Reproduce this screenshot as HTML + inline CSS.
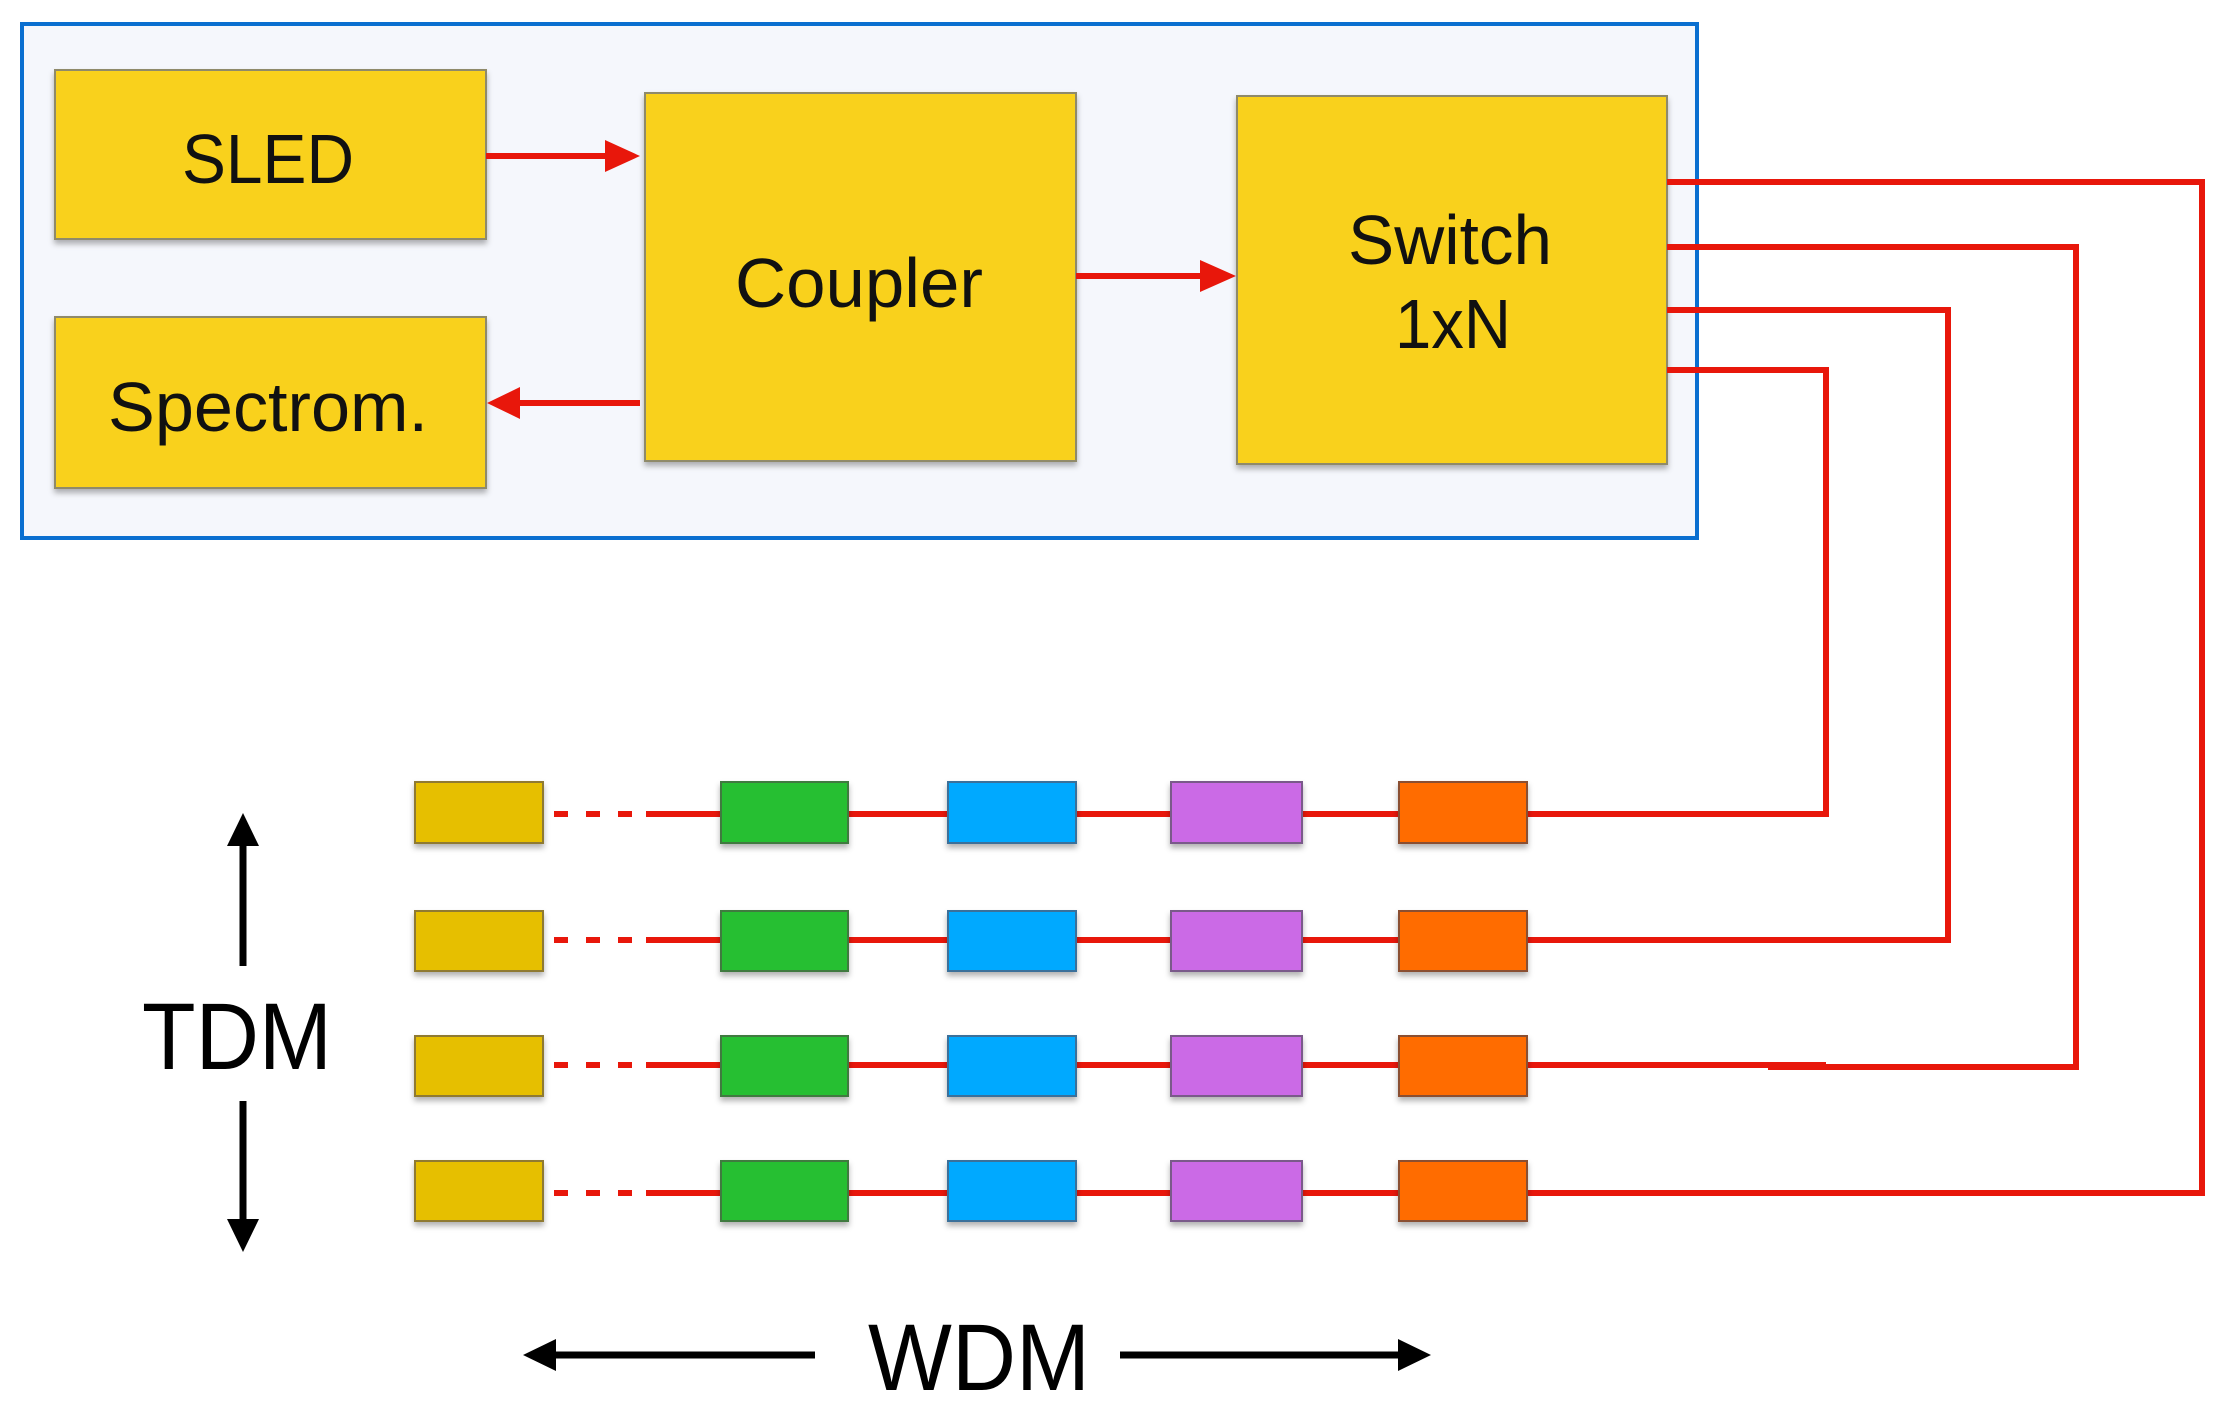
<!DOCTYPE html>
<html><head><meta charset="utf-8"><style>html,body{margin:0;padding:0;background:#fff}svg{display:block}</style></head>
<body>
<svg width="2227" height="1416" viewBox="0 0 2227 1416" xmlns="http://www.w3.org/2000/svg" font-family="Liberation Sans, sans-serif">
<defs>
<filter id="sh" x="-10%" y="-10%" width="120%" height="130%"><feDropShadow dx="0" dy="4" stdDeviation="3" flood-color="#000" flood-opacity="0.3"/></filter>
</defs>
<rect x="0" y="0" width="2227" height="1416" fill="#fff"/>
<rect x="22" y="24" width="1675" height="514" fill="#F5F7FC" stroke="#0A6FD0" stroke-width="4"/>
<g fill="#F9D11E" stroke="#8f8a6a" stroke-width="2" filter="url(#sh)">
<rect x="55" y="70" width="431" height="169"/>
<rect x="55" y="317" width="431" height="171"/>
<rect x="645" y="93" width="431" height="368"/>
<rect x="1237" y="96" width="430" height="368"/>
</g>
<g font-size="70" fill="#111" text-anchor="middle">
<text x="268" y="183" textLength="172" lengthAdjust="spacingAndGlyphs">SLED</text>
<text x="268" y="431" textLength="320" lengthAdjust="spacingAndGlyphs">Spectrom.</text>
<text x="859" y="307" textLength="248" lengthAdjust="spacingAndGlyphs">Coupler</text>
<text x="1450" y="264" textLength="204" lengthAdjust="spacingAndGlyphs">Switch</text>
<text x="1453" y="348" textLength="116" lengthAdjust="spacingAndGlyphs">1xN</text>
</g>
<g stroke="#E8170B" stroke-width="6" fill="none">
<line x1="486" y1="156" x2="610" y2="156"/>
<line x1="640" y1="403" x2="515" y2="403"/>
<line x1="1076" y1="276" x2="1205" y2="276"/>
</g>
<g fill="#E8170B">
<polygon points="605,140 640,156 605,172"/>
<polygon points="520,387 487,403 520,419"/>
<polygon points="1200,260 1236,276 1200,292"/>
</g>
<!-- fibers -->
<g stroke="#E8170B" stroke-width="6" fill="none">
<polyline points="1667,182 2202,182 2202,1193 1076,1193"/>
<polyline points="1667,247 2076,247 2076,1067 1768,1067"/>
<line x1="1527" y1="1065" x2="1826" y2="1065"/>
<polyline points="1667,310 1948,310 1948,940 1076,940"/>
<polyline points="1667,370 1826,370 1826,814 1076,814"/>
</g>
<!-- rows -->
<g id="rows">
<g stroke="#E8170B" stroke-width="6">
<line x1="646" y1="814" x2="1400" y2="814"/>
<line x1="646" y1="940" x2="1400" y2="940"/>
<line x1="646" y1="1065" x2="1400" y2="1065"/>
<line x1="646" y1="1193" x2="1400" y2="1193"/>
</g>
<g stroke="#E8170B" stroke-width="6" stroke-dasharray="14,18">
<line x1="554" y1="814" x2="640" y2="814"/>
<line x1="554" y1="940" x2="640" y2="940"/>
<line x1="554" y1="1065" x2="640" y2="1065"/>
<line x1="554" y1="1193" x2="640" y2="1193"/>
</g>
<g stroke-width="2" filter="url(#sh)">
<g fill="#E6BF00" stroke="#8f7a30">
<rect x="415" y="782" width="128" height="61"/><rect x="415" y="911" width="128" height="60"/><rect x="415" y="1036" width="128" height="60"/><rect x="415" y="1161" width="128" height="60"/>
</g>
<g fill="#26BF30" stroke="#3f7a3f">
<rect x="721" y="782" width="127" height="61"/><rect x="721" y="911" width="127" height="60"/><rect x="721" y="1036" width="127" height="60"/><rect x="721" y="1161" width="127" height="60"/>
</g>
<g fill="#00A9FF" stroke="#3a6f9a">
<rect x="948" y="782" width="128" height="61"/><rect x="948" y="911" width="128" height="60"/><rect x="948" y="1036" width="128" height="60"/><rect x="948" y="1161" width="128" height="60"/>
</g>
<g fill="#CB6BE6" stroke="#7a5a8a">
<rect x="1171" y="782" width="131" height="61"/><rect x="1171" y="911" width="131" height="60"/><rect x="1171" y="1036" width="131" height="60"/><rect x="1171" y="1161" width="131" height="60"/>
</g>
<g fill="#FF6C00" stroke="#8a5030">
<rect x="1399" y="782" width="128" height="61"/><rect x="1399" y="911" width="128" height="60"/><rect x="1399" y="1036" width="128" height="60"/><rect x="1399" y="1161" width="128" height="60"/>
</g>
</g>
</g>
<!-- TDM / WDM -->
<g stroke="#000" stroke-width="7">
<line x1="243" y1="840" x2="243" y2="966"/>
<line x1="243" y1="1101" x2="243" y2="1225"/>
<line x1="550" y1="1355" x2="815" y2="1355"/>
<line x1="1120" y1="1355" x2="1405" y2="1355"/>
</g>
<g fill="#000">
<polygon points="243,813 227,846 259,846"/>
<polygon points="243,1252 227,1219 259,1219"/>
<polygon points="523,1355 556,1339 556,1371"/>
<polygon points="1431,1355 1398,1339 1398,1371"/>
</g>
<g font-size="95" fill="#000">
<text x="142" y="1069" textLength="190" lengthAdjust="spacingAndGlyphs">TDM</text>
<text x="868" y="1390" textLength="222" lengthAdjust="spacingAndGlyphs">WDM</text>
</g>
</svg>
</body></html>
